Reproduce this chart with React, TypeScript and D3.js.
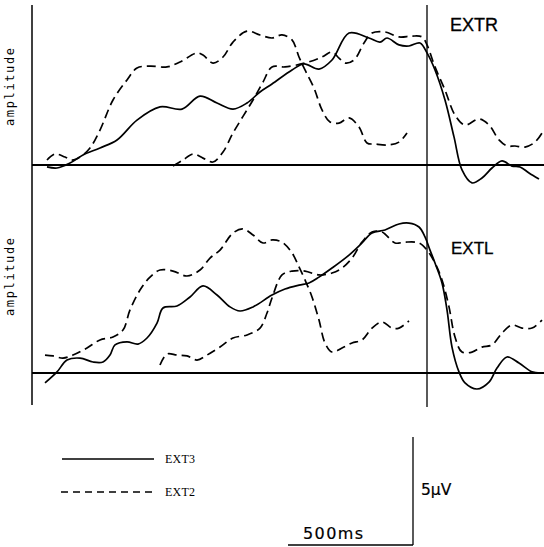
import React from "react";
import * as d3 from "d3";

// time (ms, 0 = marker), amplitude (µV)
const extrSolid: [number, number][] = [
  [-1520, -0.09], [-1480, -0.14], [-1428, 0.09], [-1376, 0.46], [-1308, 0.79], [-1240, 1.16],
  [-1160, 2.08], [-1068, 2.69], [-980, 2.59], [-908, 3.19], [-840, 2.87], [-776, 2.59],
  [-720, 2.87], [-668, 3.38], [-620, 3.75], [-540, 4.4], [-492, 4.68], [-432, 4.44],
  [-380, 4.86], [-312, 6.11], [-232, 5.88], [-188, 5.69], [-160, 5.88], [-112, 5.56],
  [-72, 5.51], [-28, 5.65], [0, 5.19], [32, 4.4], [72, 3.01], [108, 1.3], [140, -0.23],
  [180, -0.83], [220, -0.6], [260, -0.14], [300, 0.19], [340, -0.05], [372, -0.09],
  [408, -0.37], [448, -0.65],
];
const extrDashA: [number, number][] = [
  [-1520, 0.23], [-1488, 0.51], [-1448, 0.37], [-1420, 0.23], [-1388, 0.37], [-1348, 0.79],
  [-1308, 1.62], [-1256, 3.01], [-1200, 3.94], [-1160, 4.49], [-1108, 4.58], [-1040, 4.54],
  [-988, 4.77], [-920, 5.19], [-896, 5.09], [-856, 4.72], [-816, 5.0], [-776, 5.69],
  [-720, 6.2], [-668, 6.02], [-620, 5.88], [-580, 6.02], [-540, 5.79], [-512, 5.0],
  [-488, 4.4], [-452, 3.56], [-420, 2.55], [-388, 1.99], [-352, 1.94], [-312, 2.18],
  [-272, 1.76], [-240, 1.02], [-208, 0.97], [-152, 0.93], [-112, 1.06], [-80, 1.48],
];
const extrDashB: [number, number][] = [
  [-1016, -0.05], [-976, 0.23], [-936, 0.51], [-896, 0.32], [-856, 0.14], [-816, 0.6],
  [-776, 1.48], [-696, 3.01], [-656, 3.84], [-620, 4.54], [-568, 4.54], [-488, 4.72],
  [-420, 5.0], [-380, 5.23], [-352, 4.95], [-328, 4.72], [-292, 4.86], [-252, 5.65],
  [-220, 6.11], [-168, 6.16], [-112, 5.93], [-60, 5.97], [-20, 5.93], [0, 5.56],
  [32, 4.54], [72, 3.47], [112, 2.31], [152, 1.85], [208, 2.13], [248, 1.85], [288, 1.16],
  [320, 0.88], [352, 0.88], [392, 0.83], [432, 1.06], [460, 1.48],
];
const extlSolid: [number, number][] = [
  [-1528, -0.46], [-1480, 0.05], [-1440, 0.6], [-1388, 0.69], [-1336, 0.51], [-1296, 0.51],
  [-1268, 0.83], [-1248, 1.3], [-1200, 1.44], [-1156, 1.34], [-1120, 1.62], [-1080, 2.31],
  [-1056, 3.01], [-1000, 3.1], [-948, 3.52], [-896, 4.03], [-840, 3.61], [-788, 3.06],
  [-748, 2.87], [-696, 3.06], [-620, 3.61], [-568, 3.89], [-512, 4.07], [-472, 4.17],
  [-432, 4.44], [-380, 4.86], [-312, 5.46], [-260, 6.02], [-220, 6.48], [-168, 6.62],
  [-112, 6.9], [-72, 6.94], [-32, 6.76], [-8, 6.3], [12, 5.69], [32, 5.09], [60, 4.17],
  [80, 2.92], [100, 1.2], [128, 0.05], [152, -0.46], [200, -0.74], [248, -0.42],
  [280, 0.23], [320, 0.74], [368, 0.46], [420, 0.05], [460, 0.0],
];
const extlDashA: [number, number][] = [
  [-1528, 0.83], [-1496, 0.79], [-1456, 0.69], [-1416, 0.83], [-1360, 1.16], [-1308, 1.53],
  [-1256, 1.67], [-1216, 1.99], [-1188, 2.92], [-1148, 3.84], [-1108, 4.44], [-1068, 4.77],
  [-1016, 4.72], [-960, 4.49], [-908, 4.77], [-868, 5.32], [-828, 5.69], [-776, 6.48],
  [-736, 6.67], [-696, 6.39], [-656, 6.02], [-620, 6.16], [-580, 6.06], [-540, 5.56],
  [-512, 4.91], [-488, 4.31], [-460, 3.52], [-432, 2.45], [-408, 1.39], [-380, 0.97],
  [-340, 1.16], [-300, 1.39], [-260, 1.53], [-220, 2.08], [-180, 2.36], [-140, 2.08],
  [-112, 2.08], [-72, 2.41],
];
const extlDashB: [number, number][] = [
  [-1068, 0.37], [-1040, 0.88], [-1000, 0.83], [-960, 0.79], [-920, 0.6], [-880, 0.83],
  [-828, 1.2], [-776, 1.62], [-720, 1.76], [-668, 2.08], [-640, 2.78], [-620, 3.47],
  [-580, 4.54], [-540, 4.72], [-488, 4.72], [-432, 4.54], [-380, 4.63], [-340, 4.86],
  [-300, 5.32], [-260, 6.06], [-220, 6.53], [-180, 6.53], [-128, 6.02], [-88, 6.06],
  [-32, 6.02], [0, 5.69], [32, 5.09], [60, 4.31], [88, 3.06], [112, 1.67], [140, 0.97],
  [180, 0.97], [220, 1.2], [260, 1.3], [300, 1.85], [340, 2.22], [380, 2.08], [420, 2.08],
  [460, 2.45],
];

const panelLabels = ["EXTR", "EXTL"];
const legendLabels = ["EXT3", "EXT2"];
const yLabel = "amplitude";
const scaleTime = 500; // ms
const scaleAmp = 5; // µV

const W = 544;
const H = 547;

export default function App() {
  // time scale: 0 ms at x=427, 0.25 px/ms
  const x = d3.scaleLinear().domain([0, 500]).range([427, 552]);
  const pxPerUv = 21.6;
  const yTop = d3.scaleLinear().domain([0, 5]).range([165, 165 - 5 * pxPerUv]);
  const yBot = d3.scaleLinear().domain([0, 5]).range([373, 373 - 5 * pxPerUv]);

  const mk = (ys: d3.ScaleLinear<number, number>) =>
    d3
      .line<[number, number]>()
      .x((d) => x(d[0]))
      .y((d) => ys(d[1]))
      .curve(d3.curveCatmullRom.alpha(0.5));

  const lt = mk(yTop);
  const lb = mk(yBot);
  const dash = "9,5";
  const sw = 1.7;
  const sans = "DejaVu Sans, Verdana, sans-serif";
  const lib = "Liberation Sans, Arial, sans-serif";

  const panels = [
    { ys: yTop, line: lt, solid: extrSolid, dA: extrDashA, dB: extrDashB, label: panelLabels[0], lx: 450, ly: 31, fs: 18, ay: 87 },
    { ys: yBot, line: lb, solid: extlSolid, dA: extlDashA, dB: extlDashB, label: panelLabels[1], lx: 451, ly: 254, fs: 17, ay: 277 },
  ];

  // scale bar
  const sbX = 413;
  const sbY = 545;
  const sbLeft = sbX - (x(scaleTime) - x(0));
  const sbTop = sbY - scaleAmp * pxPerUv;

  return (
    <svg width={W} height={H} style={{ position: "absolute", left: 0, top: 0, background: "#fff" }}>
      <rect x={0} y={0} width={W} height={H} fill="#fff" />
      {/* left axis */}
      <line x1={32} x2={32} y1={5} y2={405} stroke="#000" strokeWidth={1.5} />
      {/* marker at 0 */}
      <line x1={x(0)} x2={x(0)} y1={5} y2={407} stroke="#000" strokeWidth={1.3} />
      {panels.map((p, i) => (
        <g key={i}>
          <line x1={32} x2={W} y1={p.ys(0)} y2={p.ys(0)} stroke="#000" strokeWidth={2.2} />
          <path d={p.line(p.solid) || ""} fill="none" stroke="#000" strokeWidth={sw} />
          <path d={p.line(p.dA) || ""} fill="none" stroke="#000" strokeWidth={sw} strokeDasharray={dash} />
          <path d={p.line(p.dB) || ""} fill="none" stroke="#000" strokeWidth={sw} strokeDasharray={dash} />
          <text x={p.lx} y={p.ly} fontFamily={lib} fontSize={p.fs} fill="#000" stroke="#000" strokeWidth={0.3}>
            {p.label}
          </text>
          <text
            transform={`translate(14, ${p.ay}) rotate(-90)`}
            textAnchor="middle"
            fontFamily="DejaVu Sans Mono, monospace"
            fontSize={12}
            textLength={78}
            lengthAdjust="spacing"
            fill="#000"
          >
            {yLabel}
          </text>
        </g>
      ))}
      {/* legend */}
      <line x1={62} x2={154} y1={459} y2={459} stroke="#000" strokeWidth={1.6} />
      <text x={165} y={463} fontFamily="Liberation Serif, serif" fontSize={12} textLength={30} fill="#000">
        {legendLabels[0]}
      </text>
      <line x1={61} x2={153} y1={492} y2={492} stroke="#000" strokeWidth={1.6} strokeDasharray="7,5" />
      <text x={165} y={496} fontFamily="Liberation Serif, serif" fontSize={12} textLength={30} fill="#000">
        {legendLabels[1]}
      </text>
      {/* scale bar */}
      <line x1={sbX} x2={sbX} y1={sbTop} y2={sbY} stroke="#000" strokeWidth={1.3} />
      <line x1={sbLeft} x2={sbX} y1={sbY} y2={sbY} stroke="#000" strokeWidth={1.6} />
      <text x={303} y={539} fontFamily={sans} fontSize={16} textLength={60} fill="#000" stroke="#000" strokeWidth={0.2}>
        {`${scaleTime}ms`}
      </text>
      <text x={421} y={495} fontFamily={sans} fontSize={15.5} fill="#000" stroke="#000" strokeWidth={0.2}>
        {`${scaleAmp}µV`}
      </text>
    </svg>
  );
}
